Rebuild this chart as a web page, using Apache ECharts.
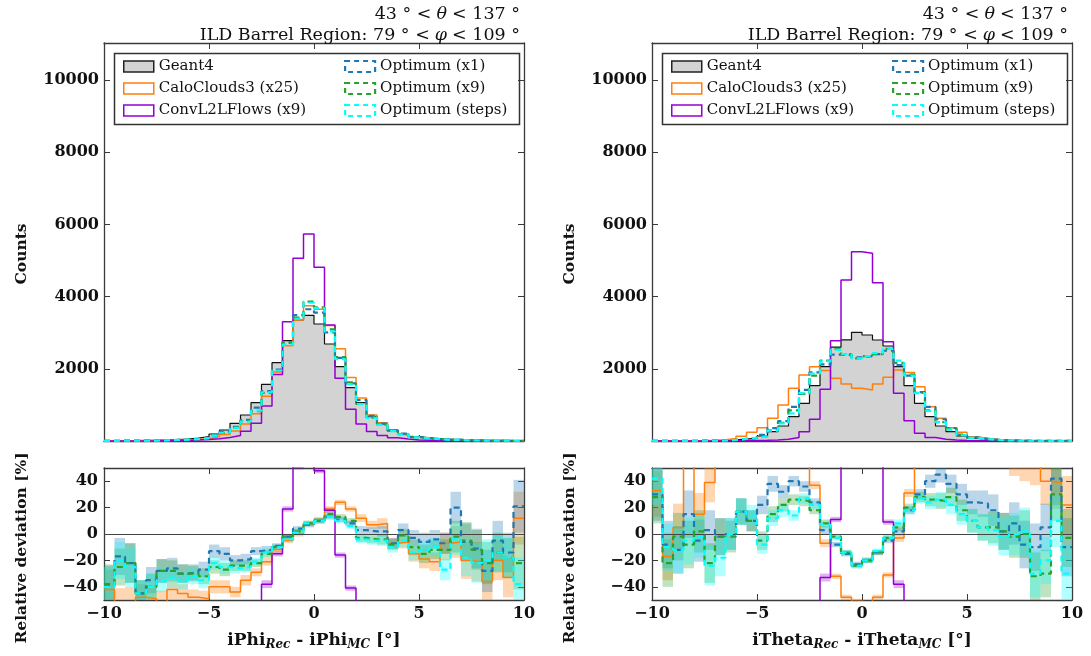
<!DOCTYPE html>
<html>
<head>
<meta charset="utf-8">
<script src="https://cdn.jsdelivr.net/npm/echarts@6/dist/echarts.min.js"></script>
<style>
html, body { margin: 0; padding: 0; background: #fff; }
#chart { width: 1091px; height: 656px; }
</style>
</head>
<body>
<div id="chart"></div>
<script>
// bin edges, 0.5 deg wide
const binEdges = [-10, -9.5, -9, -8.5, -8, -7.5, -7, -6.5, -6, -5.5, -5, -4.5, -4, -3.5, -3, -2.5, -2, -1.5, -1, -0.5,
  0, 0.5, 1, 1.5, 2, 2.5, 3, 3.5, 4, 4.5, 5, 5.5, 6, 6.5, 7, 7.5, 8, 8.5, 9, 9.5, 10]
const xTicks = [-10, -5, 0, 5, 10]
const countTicks = [2000, 4000, 6000, 8000, 10000]
const ratioTicks = [-40, -20, 0, 20, 40]

/* iPhi panel: counts per bin */
const phiGeant4 = [8, 10, 13, 17, 22, 30, 40, 55, 80, 120, 194, 305, 490, 720, 1062, 1570, 2170, 2780, 3352, 3480,
  3241, 2687, 2058, 1477, 1062, 674, 471, 305, 194, 120, 85, 60, 42, 30, 22, 17, 13, 10, 8, 6]
const phiCalo = [5, 5, 6, 9, 11, 14, 23, 30, 42, 61, 116, 183, 274, 468, 754, 1240, 1910, 2641, 3352, 3750,
  3650, 3198, 2552, 1758, 1189, 721, 509, 284, 182, 102, 69, 47, 39, 28, 18, 13, 8, 8, 5, 7]
const phiConv = [2, 2, 3, 3, 4, 6, 10, 15, 25, 40, 65, 100, 150, 270, 490, 970, 1845, 3305, 5060, 5734,
  4810, 3213, 1736, 877, 471, 260, 150, 90, 55, 30, 20, 12, 8, 5, 4, 3, 2, 2, 1, 1]
const phiOptX1 = [5, 8, 10, 9, 14, 22, 30, 38, 57, 88, 169, 259, 392, 583, 924, 1382, 1975, 2724, 3486, 3650,
  3555, 3009, 2305, 1595, 1136, 694, 480, 287, 202, 116, 82, 56, 39, 36, 21, 15, 9, 10, 7, 7]
const phiOptX9 = [5, 8, 10, 9, 13, 22, 29, 39, 56, 82, 146, 223, 372, 547, 828, 1335, 1953, 2724, 3419, 3860,
  3700, 3090, 2326, 1625, 1030, 647, 452, 281, 192, 108, 72, 53, 37, 29, 21, 15, 10, 9, 7, 5]
const phiOptSteps = [5, 8, 10, 9, 13, 20, 27, 36, 54, 78, 151, 229, 363, 540, 839, 1350, 1953, 2669, 3386, 3830,
  3680, 3036, 2264, 1566, 1020, 640, 447, 275, 184, 103, 75, 54, 31, 29, 18, 13, 10, 9, 7, 4]

/* iPhi panel: relative deviation [%] */
const phiRatioCalo = [-42, -55, -55, -48, -49, -52, -42, -45, -48, -49, -40, -40, -44, -35, -29, -21, -12, -5, 0, 8,
  11, 19, 24, 19, 12, 7, 8, -7, -6, -15, -19, -21, -7, -6, -20, -21, -36, -20, -33, 12]
const phiRatioConv = [-75, -80, -77, -82, -82, -80, -75, -73, -69, -67, -66, -67, -69, -62, -54, -38, -15, 19, 51, 65,
  48, 18, -16, -41, -56, -61, -68, -70, -72, -75, -76, -80, -81, -83, -82, -82, -85, -80, -88, -83]
const phiRatioX1 = [-39, -17, -22, -45, -35, -28, -26, -30, -29, -27, -13, -15, -20, -19, -13, -12, -9, -2, 4, 7,
  10, 13, 11, 8, 3, 2, 2, -7, 3, -3, -6, -4, -7, 20, -6, -11, -28, -5, -14, 21]
const phiRatioX9 = [-38, -25, -22, -45, -40, -28, -28, -30, -30, -32, -25, -27, -24, -24, -22, -15, -10, -2, 2, 8,
  10, 15, 13, 10, -3, -4, -4, -8, -1, -10, -15, -12, -12, -2, -5, -12, -22, -14, -18, -22]
const phiRatioSteps = [-40, -20, -25, -45, -40, -35, -33, -35, -32, -35, -22, -25, -26, -25, -21, -14, -10, -4, 1, 8,
  10, 13, 10, 6, -4, -5, -5, -10, -5, -14, -12, -10, -27, -4, -18, -22, -20, -14, -18, -38]
const phiRatioErr = [15, 14, 15, 10, 10, 9, 8, 7, 6, 6, 5, 5, 4, 4, 3, 3, 2, 2, 2, 2,
  2, 2, 2, 2, 3, 3, 4, 4, 5, 6, 7, 7, 8, 12, 14, 15, 16, 15, 15, 20]

/* iTheta panel: counts per bin */
const thetaGeant4 = [3, 4, 5, 6, 8, 12, 18, 30, 50, 80, 138, 258, 415, 674, 1043, 1533, 2059, 2600, 2800, 3010,
  2936, 2798, 2632, 2059, 1533, 1043, 674, 415, 258, 138, 80, 50, 30, 18, 12, 8, 6, 5, 4, 3]
const thetaCalo = [3, 4, 5, 8, 12, 20, 35, 70, 130, 240, 369, 628, 1000, 1459, 1828, 2059, 1950, 1736, 1579, 1459,
  1413, 1579, 1764, 1967, 1900, 1505, 951, 628, 369, 240, 120, 70, 40, 25, 15, 10, 7, 5, 4, 3]
const thetaConv = [0, 0, 0, 1, 1, 2, 3, 5, 8, 14, 20, 30, 46, 100, 258, 600, 1431, 2779, 4460, 5245,
  5199, 4386, 2752, 1320, 563, 212, 100, 46, 25, 15, 9, 6, 4, 3, 2, 1, 1, 0, 0, 0]
const thetaOptX1 = [4, 4, 4, 7, 8, 12, 18, 30, 59, 88, 168, 356, 548, 944, 1418, 1901, 2121, 2392, 2380, 2318,
  2349, 2406, 2500, 2100, 1809, 1356, 944, 602, 356, 179, 99, 62, 35, 18, 13, 7, 5, 5, 6, 3]
const thetaOptX9 = [4, 3, 5, 6, 8, 9, 18, 29, 59, 88, 131, 297, 506, 849, 1304, 1809, 2224, 2548, 2408, 2288,
  2349, 2406, 2553, 2162, 1840, 1335, 849, 519, 330, 163, 88, 53, 32, 18, 12, 8, 4, 4, 5, 3]
const thetaOptSteps = [4, 4, 4, 6, 8, 9, 15, 30, 59, 91, 127, 289, 490, 768, 1325, 1870, 2203, 2522, 2408, 2288,
  2349, 2434, 2553, 2224, 1809, 1325, 836, 523, 315, 159, 88, 53, 31, 18, 12, 8, 4, 4, 4, 2]

/* iTheta panel: relative deviation [%] */
const thetaRatioCalo = [33, -17, 5, 70, 15, 39, 65, 70, 75, 80, 85, 90, 95, 90, 80, 37, -7, -32, -48, -51,
  -52, -48, -31, -3, 31, 70, 85, 90, 95, 90, 85, 80, 75, 70, 60, 58, 55, 40, 39, 22]
const thetaRatioConv = [-100, -100, -100, -83, -88, -83, -83, -83, -84, -83, -86, -88, -89, -85, -75, -61, -33, 11, 59, 74,
  77, 57, 9, -38, -63, -80, -85, -89, -90, -89, -89, -88, -87, -83, -83, -88, -83, -100, -100, -100]
const thetaRatioX1 = [30, -8, -12, 15, -5, 3, -2, 0, 17, 10, 22, 38, 32, 40, 36, 24, 3, -8, -15, -23,
  -20, -14, -5, 2, 18, 30, 40, 45, 38, 30, 24, 23, 18, 2, 8, -8, -10, 5, 42, -10]
const thetaRatioX9 = [28, -22, -2, -8, 2, -22, -2, -2, 17, 10, -5, 15, 22, 26, 25, 18, 8, -2, -14, -24,
  -20, -14, -3, 5, 20, 28, 26, 25, 28, 18, 10, 5, 5, 2, -2, 0, -32, -30, 30, -3]
const thetaRatioSteps = [42, -10, -12, -5, -2, -24, -18, 0, 17, 14, -8, 12, 18, 14, 27, 22, 7, -3, -14, -24,
  -20, -13, -3, 8, 18, 27, 24, 26, 22, 15, 10, 5, 3, -2, 0, 2, -30, -20, 10, -30]
const thetaRatioErr = [20, 18, 18, 18, 16, 15, 14, 12, 10, 8, 7, 6, 5, 4, 4, 3, 3, 2, 2, 2,
  2, 2, 2, 3, 3, 4, 5, 6, 7, 8, 9, 10, 12, 14, 16, 18, 18, 18, 20, 22]

const FONT = 'DejaVu Serif'
const AXIS = '#3a3a3a'
const C = {
  g4: '#d3d3d3', calo: '#ff7f0e', conv: '#9400d3',
  x1: '#1f77b4', x9: '#2ca02c', steps: '#00ffff'
}
const BAND = {
  calo: 'rgba(255,127,14,0.32)', conv: 'rgba(148,0,211,0.3)',
  x1: 'rgba(31,119,180,0.3)', x9: 'rgba(44,160,44,0.3)', steps: 'rgba(0,255,255,0.3)'
}
const NAMES = {
  g4: 'Geant4', calo: 'CaloClouds3 (x25)', conv: 'ConvL2LFlows (x9)',
  x1: 'Optimum (x1)', x9: 'Optimum (x9)', steps: 'Optimum (steps)'
}

const panels = [
  {
    left: 104, var: 'iPhi',
    counts: { g4: phiGeant4, calo: phiCalo, conv: phiConv, x1: phiOptX1, x9: phiOptX9, steps: phiOptSteps },
    ratio: { calo: phiRatioCalo, conv: phiRatioConv, x1: phiRatioX1, x9: phiRatioX9, steps: phiRatioSteps },
    err: phiRatioErr
  },
  {
    left: 652, var: 'iTheta',
    counts: { g4: thetaGeant4, calo: thetaCalo, conv: thetaConv, x1: thetaOptX1, x9: thetaOptX9, steps: thetaOptSteps },
    ratio: { calo: thetaRatioCalo, conv: thetaRatioConv, x1: thetaRatioX1, x9: thetaRatioX9, steps: thetaRatioSteps },
    err: thetaRatioErr
  }
]

const W = 420
const MAIN_TOP = 43, MAIN_H = 398
const RAT_TOP = 468, RAT_H = 132

function steps (vals) {
  const pts = vals.map((v, i) => [binEdges[i], v])
  pts.push([binEdges[vals.length], vals[vals.length - 1]])
  return pts
}

function bands (r, e) {
  return r.map((v, i) => [binEdges[i], binEdges[i + 1], v - e[i], v + e[i]])
}

function stepLine (name, vals, color, width, dashed, gi, z, area) {
  const s = {
    type: 'line', name, xAxisIndex: gi, yAxisIndex: gi, step: 'end',
    data: steps(vals), showSymbol: false, symbol: 'none', z, silent: true,
    lineStyle: { color, width, type: dashed ? [6, 4] : 'solid' },
    itemStyle: { color }
  }
  if (area) s.areaStyle = { color: area, opacity: 1 }
  return s
}

function bandSeries (name, data, color, gi) {
  return {
    type: 'custom', name, xAxisIndex: gi, yAxisIndex: gi, z: 1, silent: true,
    data, encode: { x: [0, 1], y: [2, 3] },
    renderItem (params, api) {
      const a = api.coord([api.value(0), api.value(3)])
      const b = api.coord([api.value(1), api.value(2)])
      const cs = params.coordSys
      const shape = echarts.graphic.clipRectByRect(
        { x: a[0], y: a[1], width: b[0] - a[0], height: b[1] - a[1] },
        { x: cs.x, y: cs.y, width: cs.width, height: cs.height })
      return shape && { type: 'rect', shape, style: { fill: color } }
    }
  }
}

// matplotlib style: bold serif ticks with a real minus sign
const tickLabel = {
  fontFamily: FONT, fontSize: 16, fontWeight: 'bold', color: '#111',
  formatter: v => String(v).replace('-', '\u2212')
}
const axisLine = { show: true, onZero: false, lineStyle: { color: AXIS, width: 1.3 } }
const yName = { fontFamily: FONT, fontSize: 15.5, fontWeight: 'bold', color: '#111' }

const grid = [], xAxis = [], yAxis = [], series = [], legend = [], title = [], graphic = []

panels.forEach((p, pi) => {
  const gMain = pi * 2, gRat = pi * 2 + 1
  grid[gMain] = { left: p.left, top: MAIN_TOP, width: W, height: MAIN_H }
  grid[gRat] = { left: p.left, top: RAT_TOP, width: W, height: RAT_H }

  // bottom / left axes use index = grid index, mirrors at +4
  xAxis[gMain] = {
    type: 'value', gridIndex: gMain, min: -10, max: 10, axisLine,
    axisTick: { inside: true, length: 6, customValues: xTicks, lineStyle: { color: AXIS } },
    axisLabel: { show: false }, splitLine: { show: false }
  }
  xAxis[gRat] = {
    type: 'value', gridIndex: gRat, min: -10, max: 10, axisLine,
    axisTick: { inside: true, length: 6, customValues: xTicks, lineStyle: { color: AXIS } },
    axisLabel: Object.assign({ customValues: xTicks, margin: 6 }, tickLabel),
    splitLine: { show: false },
    name: p.var + '{sub|Rec} - ' + p.var + '{sub|MC} [°]',
    nameLocation: 'middle', nameGap: 30,
    nameTextStyle: {
      fontFamily: FONT, fontSize: 17, fontWeight: 'bold', color: '#111',
      rich: { sub: { fontFamily: FONT, fontSize: 12, fontStyle: 'italic', fontWeight: 'bold', color: '#111', padding: [9, 0, 0, 0] } }
    }
  }
  yAxis[gMain] = {
    type: 'value', gridIndex: gMain, min: 0, max: 11025, axisLine,
    axisTick: { inside: true, length: 6, customValues: countTicks, lineStyle: { color: AXIS } },
    axisLabel: Object.assign({ customValues: countTicks, margin: 5 }, tickLabel),
    splitLine: { show: false },
    name: 'Counts', nameLocation: 'middle', nameGap: 74, nameRotate: 90,
    nameTextStyle: Object.assign({ padding: [0, 24, 0, 0] }, yName)
  }
  yAxis[gRat] = {
    type: 'value', gridIndex: gRat, min: -50, max: 50, axisLine,
    axisTick: { inside: true, length: 6, customValues: ratioTicks, lineStyle: { color: AXIS } },
    axisLabel: Object.assign({ customValues: ratioTicks, margin: 6 }, tickLabel),
    splitLine: { show: false },
    name: 'Relative deviation [%]', nameLocation: 'middle', nameGap: 74, nameRotate: 90,
    nameTextStyle: Object.assign({ padding: [0, 28, 0, 0] }, yName)
  }
  ;[gMain, gRat].forEach(g => {
    const yTicks = g === gMain ? countTicks : ratioTicks
    xAxis[4 + g] = {
      type: 'value', gridIndex: g, position: 'top', min: -10, max: 10, axisLine,
      axisTick: { inside: true, length: 6, customValues: xTicks, lineStyle: { color: AXIS } },
      axisLabel: { show: false }, splitLine: { show: false }
    }
    yAxis[4 + g] = {
      type: 'value', gridIndex: g, position: 'right',
      min: g === gMain ? 0 : -50, max: g === gMain ? 11025 : 50, axisLine,
      axisTick: { inside: true, length: 6, customValues: yTicks, lineStyle: { color: AXIS } },
      axisLabel: { show: false }, splitLine: { show: false }
    }
  })

  // main histograms
  series.push(stepLine(NAMES.g4, p.counts.g4, '#111', 1.2, false, gMain, 2, C.g4))
  series.push(stepLine(NAMES.calo, p.counts.calo, C.calo, 1.5, false, gMain, 3))
  series.push(stepLine(NAMES.conv, p.counts.conv, C.conv, 1.5, false, gMain, 4))
  series.push(stepLine(NAMES.x1, p.counts.x1, C.x1, 2.2, true, gMain, 5))
  series.push(stepLine(NAMES.x9, p.counts.x9, C.x9, 2.2, true, gMain, 6))
  series.push(stepLine(NAMES.steps, p.counts.steps, C.steps, 2.2, true, gMain, 7))

  // ratio bands + lines
  ;['calo', 'conv', 'x1', 'x9', 'steps'].forEach(k => {
    series.push(bandSeries(NAMES[k], bands(p.ratio[k], p.err), BAND[k], gRat))
  })
  const zero = stepLine(NAMES.calo, p.ratio.calo, C.calo, 1.5, false, gRat, 3)
  zero.markLine = {
    silent: true, symbol: 'none', label: { show: false }, animation: false,
    lineStyle: { color: '#444', width: 1, type: 'solid' }, data: [{ yAxis: 0 }]
  }
  series.push(zero)
  series.push(stepLine(NAMES.conv, p.ratio.conv, C.conv, 1.5, false, gRat, 4))
  series.push(stepLine(NAMES.x1, p.ratio.x1, C.x1, 2.2, true, gRat, 5))
  series.push(stepLine(NAMES.x9, p.ratio.x9, C.x9, 2.2, true, gRat, 6))
  series.push(stepLine(NAMES.steps, p.ratio.steps, C.steps, 2.2, true, gRat, 7))

  // legend: two columns inside a framed box
  const legText = { fontFamily: FONT, fontSize: 15, color: '#111' }
  const item = (k, fill, dashed) => ({
    name: NAMES[k], icon: 'rect',
    itemStyle: {
      color: fill, borderColor: k === 'g4' ? '#222' : C[k],
      borderWidth: dashed ? 2.2 : 1.5, borderType: dashed ? [5, 4] : 'solid'
    }
  })
  legend.push({
    left: p.left + 14, top: 54, orient: 'vertical', itemGap: 7, itemWidth: 30, itemHeight: 11,
    textStyle: legText, selectedMode: false,
    data: [item('g4', C.g4), item('calo', 'transparent'), item('conv', 'transparent')]
  })
  legend.push({
    left: p.left + 235, top: 54, orient: 'vertical', itemGap: 7, itemWidth: 30, itemHeight: 11,
    textStyle: legText, selectedMode: false,
    data: [item('x1', 'transparent', true), item('x9', 'transparent', true), item('steps', 'transparent', true)]
  })
  graphic.push({
    type: 'rect', left: p.left + 8, top: 51, z: 10, silent: true,
    shape: { width: W - 15, height: 71 },
    style: { fill: 'none', stroke: '#333', lineWidth: 1.5 }
  })

  // titles, right aligned to the panel edge
  const rightGap = 1091 - (p.left + W) - 1
  const rich = {
    t: { fontFamily: FONT, fontSize: 17.5, fontWeight: 'normal', color: '#111' },
    i: { fontFamily: FONT, fontSize: 17.5, fontWeight: 'normal', fontStyle: 'italic', color: '#111' }
  }
  title.push({
    right: rightGap, top: 0, text: '{t|43 ° <} {i|θ} {t|< 137 °}',
    textStyle: { fontWeight: 'normal', rich }
  })
  title.push({
    right: rightGap, top: 21, text: '{t|ILD Barrel Region: 79 ° <} {i|φ} {t|< 109 °}',
    textStyle: { fontWeight: 'normal', rich }
  })
})

const option = {
  animation: false,
  backgroundColor: '#fff',
  title, grid, xAxis, yAxis, series, legend, graphic
}

const chart = echarts.init(document.getElementById('chart'))
chart.setOption(option)
</script>
</body>
</html>
